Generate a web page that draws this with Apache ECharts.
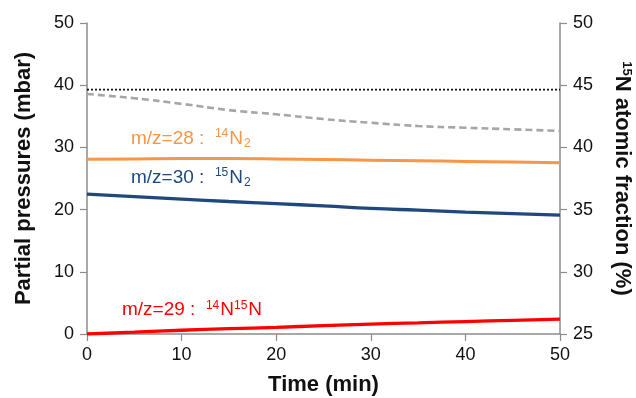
<!DOCTYPE html>
<html><head><meta charset="utf-8">
<script src="https://cdn.jsdelivr.net/npm/echarts@6/dist/echarts.min.js"></script>
<style>html,body{margin:0;padding:0;background:#fff}#c{width:636px;height:398px}</style>
</head><body><div id="c"></div>
<script>
const time = [0, 5, 10, 15, 20, 25, 30, 35, 40, 45, 50];
const mz28 = [28.1, 28.15, 28.2, 28.2, 28.15, 28.05, 27.95, 27.85, 27.75, 27.65, 27.55];
const mz30 = [22.5, 22.1, 21.7, 21.3, 20.95, 20.6, 20.2, 19.9, 19.6, 19.35, 19.1];
const mz29 = [0.0, 0.3, 0.6, 0.85, 1.07, 1.35, 1.6, 1.8, 2.0, 2.2, 2.4];
const n15Fraction = [44.29, 43.95, 43.5, 43.0, 42.66, 42.28, 41.98, 41.72, 41.58, 41.45, 41.32];
const n15Theory = [44.65, 44.65, 44.65, 44.65, 44.65, 44.65, 44.65, 44.65, 44.65, 44.65, 44.65];
const pair = a => time.map((t, i) => [t, a[i]]);
const F = 'Liberation Sans, Arial, sans-serif';
const chart = echarts.init(document.getElementById('c'));
const lbl = {color: '#111', fontSize: 18, fontFamily: F, margin: 13};
const axisCommon = {
  axisLine: {show: true, lineStyle: {color: '#8c8c8c', width: 1.5}},
  axisTick: {show: true, inside: false, length: 7, lineStyle: {color: '#8c8c8c', width: 1.2}},
  splitLine: {show: false},
  axisLabel: lbl
};
const titleStyle = {fontSize: 22, fontWeight: 'bold', fontFamily: F, color: '#111'};
function sup(c){ return {fontSize: 12, fill: c, color: c, fontFamily: F, verticalAlign: 'top', padding: [0, 1, 9, 0]}; }
function sub(c){ return {fontSize: 12, fill: c, color: c, fontFamily: F, padding: [10, 0, 0, 1]}; }
chart.setOption({
  animation: false,
  grid: {left: 87, right: 76, top: 23, bottom: 64, containLabel: false, outerBoundsMode: 'none'},
  xAxis: Object.assign({type: 'value', min: 0, max: 50, interval: 10,
    name: 'Time (min)', nameLocation: 'middle', nameGap: 40,
    nameTextStyle: titleStyle}, axisCommon,
    {axisLabel: Object.assign({}, lbl, {margin: 12})}),
  yAxis: [
    Object.assign({type: 'value', min: 0, max: 50, interval: 10, position: 'left',
      name: 'Partial pressures (mbar)', nameLocation: 'middle', nameGap: 52, nameRotate: 90,
      nameTextStyle: titleStyle}, axisCommon),
    Object.assign({type: 'value', min: 25, max: 50, interval: 5, position: 'right',
      name: '{s|15}N atomic fraction (%)', nameLocation: 'middle', nameGap: 51, nameRotate: -90,
      nameTextStyle: Object.assign({}, titleStyle, {
        rich: {s: {fontSize: 13, fontWeight: 'bold', fontFamily: F, color: '#111', verticalAlign: 'top', padding: [0, 0, 9, 0]}}})}, axisCommon)
  ],
  series: [
    {type: 'line', yAxisIndex: 1, data: pair(n15Theory), showSymbol: false,
      lineStyle: {color: '#111', width: 1.8, type: [2, 2]}},
    {type: 'line', yAxisIndex: 1, data: pair(n15Fraction), showSymbol: false, smooth: true,
      lineStyle: {color: '#a6a6a6', width: 2.6, type: [7, 4]}},
    {type: 'line', data: pair(mz28), showSymbol: false, smooth: true, lineStyle: {color: '#f79646', width: 3}},
    {type: 'line', data: pair(mz30), showSymbol: false, smooth: true, lineStyle: {color: '#1f497d', width: 3.3}},
    {type: 'line', data: pair(mz29), showSymbol: false, smooth: true, lineStyle: {color: '#ff0000', width: 3.3}}
  ],
  graphic: [
    {type: 'text', x: 131, y: 139, style: {text: 'm/z=28 :  {p|14}N{b|2}', fill: '#f79646', font: '19px ' + F, verticalAlign: 'middle',
      rich: {p: sup('#f79646'), b: sub('#f79646')}}},
    {type: 'text', x: 131, y: 178, style: {text: 'm/z=30 :  {p|15}N{b|2}', fill: '#1f497d', font: '19px ' + F, verticalAlign: 'middle',
      rich: {p: sup('#1f497d'), b: sub('#1f497d')}}},
    {type: 'text', x: 122, y: 310, style: {text: 'm/z=29 :  {p|14}N{p|15}N', fill: '#ff0000', font: '19px ' + F, verticalAlign: 'middle',
      rich: {p: sup('#ff0000')}}}
  ]
});
</script></body></html>
